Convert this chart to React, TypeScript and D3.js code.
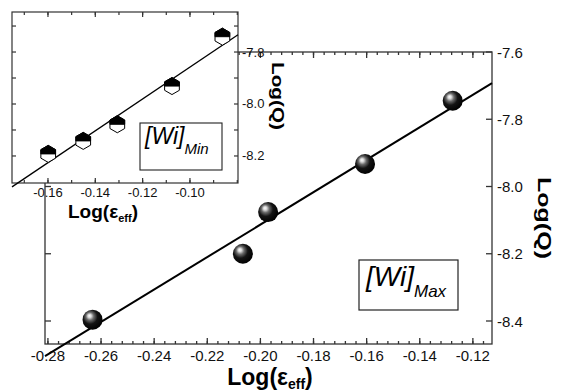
import * as d3 from 'd3'

// main panel: [Wi]Max
const maxLogEps = [-0.2632, -0.2066, -0.1971, -0.1606, -0.1276]
const maxLogQ = [-8.396, -8.2, -8.076, -7.933, -7.745]
const maxXTicks = [-0.28, -0.26, -0.24, -0.22, -0.2, -0.18, -0.16, -0.14, -0.12]
const maxYTicks = [-8.4, -8.2, -8.0, -7.8, -7.6]

// inset: [Wi]Min
const minLogEps = [-0.1599, -0.1451, -0.1307, -0.1076, -0.0863]
const minLogQ = [-8.192, -8.142, -8.078, -7.931, -7.741]
const minXTicks = [-0.16, -0.14, -0.12, -0.1]
const minYTicks = [-8.2, -8.0, -7.8]

const FONT = '"Liberation Sans", Arial, sans-serif'

function fit(xs: number[], ys: number[]) {
  const mx = d3.mean(xs) as number
  const my = d3.mean(ys) as number
  const sxy = d3.sum(xs, (x, i) => (x - mx) * (ys[i] - my))
  const sxx = d3.sum(xs, x => (x - mx) ** 2)
  const b = sxy / sxx
  return (x: number) => my + b * (x - mx)
}

function hexPath(R: number, upper: boolean) {
  const w = R * Math.cos(Math.PI / 6)
  if (upper) return `M${-w},0L${-w},${-R / 2}L0,${-R}L${w},${-R / 2}L${w},0Z`
  return `M0,${-R}L${w},${-R / 2}L${w},${R / 2}L0,${R}L${-w},${R / 2}L${-w},${-R / 2}Z`
}

export default function App() {
  // main scales
  const x = d3.scaleLinear().domain([-0.2811, -0.1128]).range([45, 492])
  const y = d3.scaleLinear().domain([-8.4684, -7.6]).range([344, 52])
  const [x0, x1] = x.range()
  const [y0, y1] = y.range()
  const xMinor = d3.range(-70, -28).map(i => i * 0.004)
  const lineMax = fit(maxLogEps, maxLogQ)
  const xd = x.domain()

  // inset scales
  const ix = d3.scaleLinear().domain([-0.1752, -0.0797]).range([12, 238])
  const iy = d3.scaleLinear().domain([-8.304, -7.646]).range([183, 12])
  const [ix0, ix1] = ix.range()
  const [iy0, iy1] = iy.range()
  const ixMinor = d3.range(-17, -7).map(i => i * 0.01)
  const iyMinor = d3.range(-82, -76).map(i => i * 0.1)
  const lineMin = fit(minLogEps, minLogQ)
  const ixd = ix.domain()

  const axis = '#333'

  return (
    <svg width={561} height={391} style={{ position: 'absolute', left: 0, top: 0, background: '#fff' }} fontFamily={FONT}>
      <defs>
        <radialGradient id="ball" cx="0.42" cy="0.4" r="0.62" fx="0.34" fy="0.3">
          <stop offset="0" stopColor="#ffffff" />
          <stop offset="0.14" stopColor="#d8d8d8" />
          <stop offset="0.32" stopColor="#6a6a6a" />
          <stop offset="0.58" stopColor="#141414" />
          <stop offset="1" stopColor="#000" />
        </radialGradient>
      </defs>

      {/* ---------- main panel ---------- */}
      <g stroke={axis} strokeWidth={1.3} fill="none">
        <rect x={x0} y={y1} width={x1 - x0} height={y0 - y1} />
        {xMinor.map(v => (
          <g key={'xm' + v}>
            <line x1={x(v)} x2={x(v)} y1={y0} y2={y0 - 3} />
            <line x1={x(v)} x2={x(v)} y1={y1} y2={y1 + 3} />
          </g>
        ))}
        {maxXTicks.map(v => (
          <g key={'xM' + v}>
            <line x1={x(v)} x2={x(v)} y1={y0} y2={y0 - 6} />
            <line x1={x(v)} x2={x(v)} y1={y1} y2={y1 + 6} />
          </g>
        ))}
        {maxYTicks.map(v => (
          <g key={'yM' + v}>
            <line x1={x0} x2={x0 + 6} y1={y(v)} y2={y(v)} />
            <line x1={x1} x2={x1 - 6} y1={y(v)} y2={y(v)} />
          </g>
        ))}
      </g>
      {maxXTicks.map(v => (
        <text key={'xl' + v} x={x(v)} y={361} fontSize={15} textAnchor="middle" fill="#111">
          {v.toFixed(2)}
        </text>
      ))}
      {maxYTicks.map(v => (
        <text key={'yl' + v} x={497} y={y(v) + 5.5} fontSize={15} fill="#111">
          {v.toFixed(1)}
        </text>
      ))}
      <line x1={x(xd[0])} y1={y(lineMax(xd[0]))} x2={x(xd[1])} y2={y(lineMax(xd[1]))} stroke="#000" strokeWidth={2} />
      {maxLogEps.map((v, i) => (
        <circle key={'b' + i} cx={x(v)} cy={y(maxLogQ[i])} r={10} fill="url(#ball)" />
      ))}
      <rect x={359} y={260} width={99} height={50} fill="#fff" stroke="#222" strokeWidth={1.2} />
      <text x={366} y={286} fontSize={28} fontStyle="italic" fill="#000">
        [Wi]<tspan fontSize={17} dy={11}>Max</tspan>
      </text>
      <text x={270} y={385} fontSize={23} fontWeight="bold" textAnchor="middle" fill="#000">
        Log(ε<tspan fontSize={14} dy={4}>eff</tspan><tspan dy={-4}>)</tspan>
      </text>
      <text transform="translate(538,177) rotate(90)" fontSize={18} fontWeight="bold" fill="#000" textLength={82} lengthAdjust="spacingAndGlyphs">
        Log(Q)
      </text>

      {/* ---------- inset ---------- */}
      <rect x={ix0} y={iy1} width={ix1 - ix0} height={iy0 - iy1} fill="#fff" />
      <g stroke={axis} strokeWidth={1.2} fill="none">
        <rect x={ix0} y={iy1} width={ix1 - ix0} height={iy0 - iy1} />
        {ixMinor.map(v => (
          <g key={'ixm' + v}>
            <line x1={ix(v)} x2={ix(v)} y1={iy0} y2={iy0 - 3} />
            <line x1={ix(v)} x2={ix(v)} y1={iy1} y2={iy1 + 3} />
          </g>
        ))}
        {minXTicks.map(v => (
          <g key={'ixM' + v}>
            <line x1={ix(v)} x2={ix(v)} y1={iy0} y2={iy0 - 5} />
            <line x1={ix(v)} x2={ix(v)} y1={iy1} y2={iy1 + 5} />
          </g>
        ))}
        {iyMinor.map(v => (
          <g key={'iym' + v}>
            <line x1={ix0} x2={ix0 + 4} y1={iy(v)} y2={iy(v)} />
            <line x1={ix1} x2={ix1 - 4} y1={iy(v)} y2={iy(v)} />
          </g>
        ))}
      </g>
      {minXTicks.map(v => (
        <text key={'ixl' + v} x={ix(v)} y={197} fontSize={13} textAnchor="middle" fill="#111">
          {v.toFixed(2)}
        </text>
      ))}
      {minYTicks.map(v => (
        <text key={'iyl' + v} x={242} y={iy(v) + 4.5} fontSize={13} fill="#111">
          {v.toFixed(1)}
        </text>
      ))}
      <line x1={ix(ixd[0])} y1={iy(lineMin(ixd[0]))} x2={ix(ixd[1])} y2={iy(lineMin(ixd[1]))} stroke="#000" strokeWidth={1.3} />
      {minLogEps.map((v, i) => (
        <g key={'h' + i} transform={`translate(${ix(v)},${iy(minLogQ[i])})`}>
          <path d={hexPath(8.5, false)} fill="#fff" stroke="#000" strokeWidth={1} />
          <path d={hexPath(8.5, true)} fill="#000" stroke="#000" strokeWidth={1} />
        </g>
      ))}
      <rect x={140} y={123} width={82} height={47} fill="#fff" stroke="#222" strokeWidth={1.1} />
      <text x={145} y={144} fontSize={23} fontStyle="italic" fill="#000">
        [Wi]<tspan fontSize={15} dy={10}>Min</tspan>
      </text>
      <text x={103} y={218} fontSize={19} fontWeight="bold" textAnchor="middle" fill="#000">
        Log(ε<tspan fontSize={11} dy={4}>eff</tspan><tspan dy={-4}>)</tspan>
      </text>
      <text transform="translate(272,62) rotate(90)" fontSize={16} fontWeight="bold" fill="#000" textLength={68} lengthAdjust="spacingAndGlyphs">
        Log(Q)
      </text>
    </svg>
  )
}
